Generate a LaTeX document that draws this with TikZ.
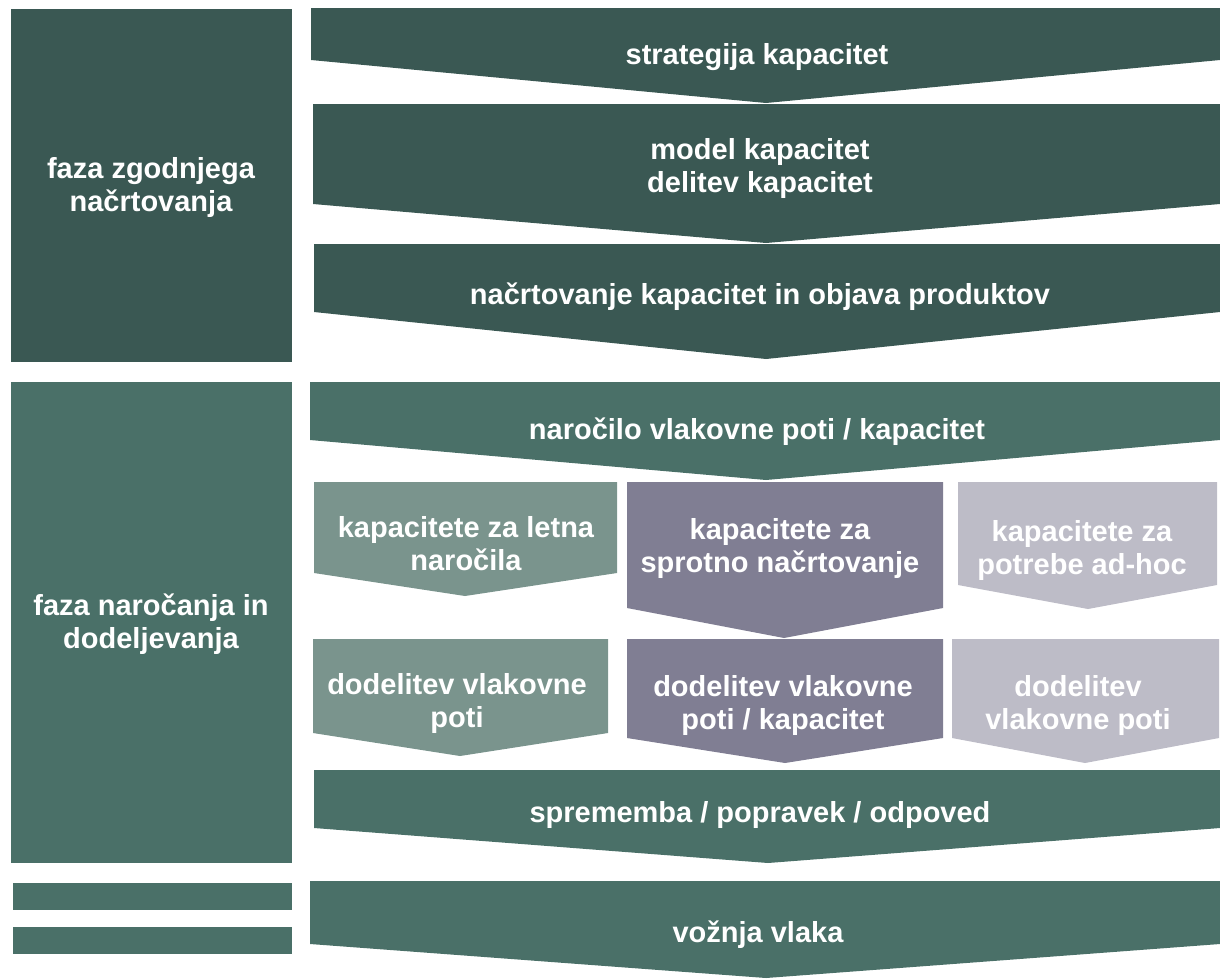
\documentclass[tikz,border=0pt]{standalone}
\usepackage{fontspec}
\setmainfont{Liberation Sans}
\definecolor{darkgr}{HTML}{3A5853}
\definecolor{midgr}{HTML}{4A7068}
\definecolor{lightgr}{HTML}{7A948D}
\definecolor{purp}{HTML}{807E93}
\definecolor{lightpurp}{HTML}{BDBCC7}
\newcommand\chevshape[8]{\fill[#2] (#3,#5) -- (#4,#5) -- (#4,#6) -- (#7,#8) -- (#3,#6) -- cycle; \coordinate (#1) at (#7,#5);}
\begin{document}
\begin{tikzpicture}[x=1pt,y=-1pt,
  lbl/.style={text=white,font=\bfseries\fontsize{29}{33}\selectfont,align=center,inner sep=0pt}]
\useasboundingbox (0,0) rectangle (1220,978);
% left phase boxes
\fill[darkgr] (11,9) rectangle (292,362);
\fill[midgr] (11,382) rectangle (292,863);
\fill[midgr] (13,883) rectangle (292,910);
\fill[midgr] (13,927) rectangle (292,954);
\node[lbl] (p1) at (151,187) {faza zgodnjega\\načrtovanja};
\node[lbl] (p2) at (151,624) {faza naročanja in\\dodeljevanja};
% main chevrons
\chevshape{c1}{darkgr}{311}{1220}{8}{60}{766}{103}
\chevshape{c2}{darkgr}{313}{1220}{104}{204}{766}{243}
\chevshape{c3}{darkgr}{314}{1220}{244}{312}{766}{359}
\chevshape{c4}{midgr}{310}{1220}{382}{440}{766}{480}
\chevshape{c5}{midgr}{314}{1220}{770}{828}{768}{863}
\chevshape{c6}{midgr}{310}{1220}{881}{944}{766}{978}
% sub chevrons
\chevshape{s1}{lightgr}{314}{617}{482}{573}{465}{596}
\chevshape{s2}{purp}{627}{943}{482}{608}{784}{638}
\chevshape{s3}{lightpurp}{958}{1217}{482}{585}{1088}{609}
\chevshape{s4}{lightgr}{313}{608}{639}{733}{460}{756}
\chevshape{s5}{purp}{627}{943}{639}{738}{785}{763}
\chevshape{s6}{lightpurp}{952}{1219}{639}{738}{1085}{763}
% labels
\node[lbl] (t1) at (757,57) {strategija kapacitet};
\node[lbl] (t2) at (760,168) {model kapacitet\\delitev kapacitet};
\node[lbl] (t3) at (760,297) {načrtovanje kapacitet in objava produktov};
\node[lbl] (t4) at (757,432) {naročilo vlakovne poti / kapacitet};
\node[lbl] (t5) at (466,544) {kapacitete za letna\\naročila};
\node[lbl] (t6) at (780,548) {kapacitete za\\sprotno načrtovanje};
\node[lbl] (t7) at (1082,550) {kapacitete za\\potrebe ad-hoc};
\node[lbl] (t8) at (457,703) {dodelitev vlakovne\\poti};
\node[lbl] (t9) at (783,705) {dodelitev vlakovne\\poti / kapacitet};
\node[lbl] (t10) at (1078,705) {dodelitev\\vlakovne poti};
\node[lbl] (t11) at (760,815) {sprememba / popravek / odpoved};
\node[lbl] (t12) at (758,935) {vožnja vlaka};
\end{tikzpicture}
\end{document}
